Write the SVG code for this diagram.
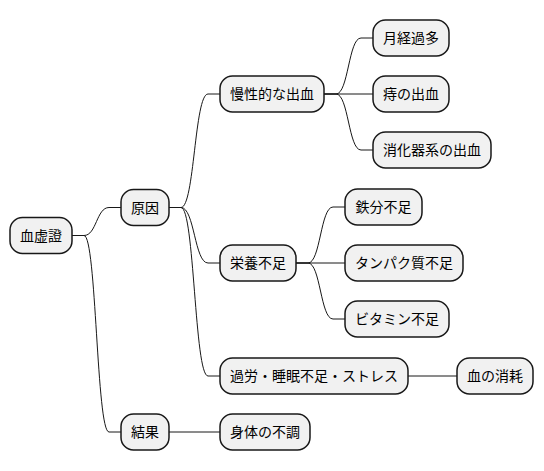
<svg xmlns="http://www.w3.org/2000/svg" width="544" height="471" viewBox="0 0 544 471">
<style>
.n rect{fill:#F1F1F1;stroke:#181818;stroke-width:1.5}
.n text{font-family:"Noto Sans CJK JP","Noto Sans CJK SC",sans-serif;font-size:14px;fill:#000000;text-anchor:middle}
#connectors path{fill:none;stroke:#181818;stroke-width:1}
</style>
<rect width="544" height="471" fill="#FFFFFF"/>
<g id="connectors">
<path d="M72,235.5 L84,235.5 C96.5,235.5 96.5,207.5 109,207.5 L121,207.5"/>
<path d="M72,235.5 L84,235.5 C96.5,235.5 96.5,432 109,432 L121,432"/>
<path d="M169,207.5 L181,207.5 C194.5,207.5 194.5,94 208,94 L220,94"/>
<path d="M169,207.5 L181,207.5 C194.5,207.5 194.5,263 208,263 L220,263"/>
<path d="M169,207.5 L181,207.5 C194.5,207.5 194.5,376 208,376 L220,376"/>
<path d="M169,432 L220,432"/>
<path d="M324,94 L336,94 C348.5,94 348.5,38 361,38 L373,38"/>
<path d="M324,94 L373,94"/>
<path d="M324,94 L336,94 C348.5,94 348.5,150 361,150 L373,150"/>
<path d="M296,263 L308,263 C320.5,263 320.5,207 333,207 L345,207"/>
<path d="M296,263 L345,263"/>
<path d="M296,263 L308,263 C320.5,263 320.5,319 333,319 L345,319"/>
<path d="M408,376 L457,376"/>
</g>
<g id="n1" class="n"><rect x="10" y="217.5" width="62" height="36" rx="12.5"/><text x="41" y="240.5">血虚證</text></g>
<g id="n2" class="n"><rect x="121" y="189.5" width="48" height="36" rx="12.5"/><text x="145" y="212.5">原因</text></g>
<g id="n3" class="n"><rect x="121" y="414" width="48" height="36" rx="12.5"/><text x="145" y="437">結果</text></g>
<g id="n4" class="n"><rect x="220" y="76" width="104" height="36" rx="12.5"/><text x="272" y="99">慢性的な出血</text></g>
<g id="n5" class="n"><rect x="220" y="245" width="76" height="36" rx="12.5"/><text x="258" y="268">栄養不足</text></g>
<g id="n6" class="n"><rect x="220" y="358" width="188" height="36" rx="12.5"/><text x="314" y="381">過労・睡眠不足・ストレス</text></g>
<g id="n7" class="n"><rect x="220" y="414" width="90" height="36" rx="12.5"/><text x="265" y="437">身体の不調</text></g>
<g id="n8" class="n"><rect x="373" y="20" width="76" height="36" rx="12.5"/><text x="411" y="43">月経過多</text></g>
<g id="n9" class="n"><rect x="373" y="76" width="76" height="36" rx="12.5"/><text x="411" y="99">痔の出血</text></g>
<g id="n10" class="n"><rect x="373" y="132" width="118" height="36" rx="12.5"/><text x="432" y="155">消化器系の出血</text></g>
<g id="n11" class="n"><rect x="345" y="189" width="77" height="36" rx="12.5"/><text x="383.5" y="212">鉄分不足</text></g>
<g id="n12" class="n"><rect x="345" y="245" width="118" height="36" rx="12.5"/><text x="404" y="268">タンパク質不足</text></g>
<g id="n13" class="n"><rect x="345" y="301" width="104" height="36" rx="12.5"/><text x="397" y="324">ビタミン不足</text></g>
<g id="n14" class="n"><rect x="457" y="358" width="76" height="36" rx="12.5"/><text x="495" y="381">血の消耗</text></g>
</svg>
